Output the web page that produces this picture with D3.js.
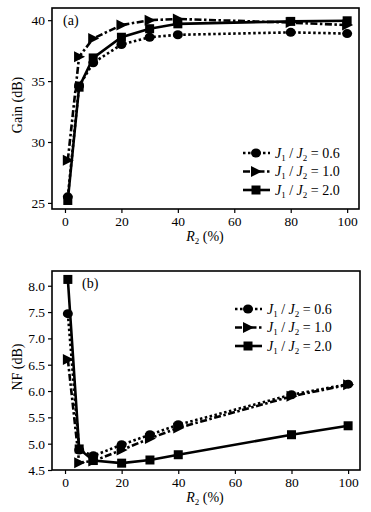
<!DOCTYPE html>
<html><head><meta charset="utf-8">
<script src="https://cdn.jsdelivr.net/npm/d3@7"></script>
<style>
body{margin:0;background:#fff;}
svg text{font-family:"Times New Roman","Liberation Serif",Tinos,Times,serif;fill:#000;}
</style></head>
<body><svg id="c" width="371" height="512"></svg>
<script>
const xValues = [1, 5, 10, 20, 30, 40, 80, 100];
const ratios = ["0.6", "1.0", "2.0"];
const gain06 = [25.5, 34.6, 36.5, 38.0, 38.6, 38.8, 39.0, 38.9];
const gain10 = [28.5, 37.0, 38.5, 39.6, 40.0, 40.1, 39.8, 39.6];
const gain20 = [25.2, 34.5, 36.9, 38.6, 39.3, 39.7, 39.9, 39.95];
const nf06 = [7.47, 4.88, 4.77, 4.98, 5.17, 5.36, 5.93, 6.13];
const nf10 = [6.6, 4.64, 4.67, 4.88, 5.1, 5.3, 5.9, 6.12];
const nf20 = [8.12, 4.9, 4.68, 4.63, 4.69, 4.79, 5.17, 5.34];
const xTicks = [0, 20, 40, 60, 80, 100];
const gainTicks = [25, 30, 35, 40];
const nfTicks = [4.5, 5.0, 5.5, 6.0, 6.5, 7.0, 7.5, 8.0];

const svg = d3.select("#c");
const styles = [
  {dash: "2.5,2.5", marker: "circle"},
  {dash: "7,2.5,2.5,2.5", marker: "triangle"},
  {dash: null, marker: "square"}
];

function drawMarker(g, type, x, y) {
  if (type === "circle") g.append("ellipse").attr("cx", x).attr("cy", y).attr("rx", 5).attr("ry", 4.5);
  else if (type === "square") g.append("rect").attr("x", x - 4.5).attr("y", y - 4.5).attr("width", 9).attr("height", 9);
  else g.append("path").attr("d", `M${x-5},${y-5.5}L${x+6},${y}L${x-5},${y+5.5}Z`);
}

function panel(cfg) {
  const {top, bottom, left, right, yDomain, yTicks, yFmt, series, label, ylabel, legendX, legendY} = cfg;
  const x = d3.scaleLinear().domain([-4.6, 104.2]).range([left, right]);
  const y = d3.scaleLinear().domain(yDomain).range([bottom, top]);
  const g = svg.append("g");
  const xa = g.append("g").attr("transform", `translate(0,${bottom})`)
    .call(d3.axisBottom(x).tickValues(xTicks).tickSize(4).tickPadding(3).tickFormat(d3.format("d")));
  const ya = g.append("g").attr("transform", `translate(${left},0)`)
    .call(d3.axisLeft(y).tickValues(yTicks).tickSize(4).tickPadding(3).tickFormat(yFmt));
  [xa, ya].forEach(a => {
    a.attr("font-family", null);
    a.select(".domain").remove();
    a.selectAll("line").attr("stroke", "#000").attr("stroke-width", 1.2);
    a.selectAll("text").attr("font-size", 13.5);
  });
  g.append("rect").attr("x", left).attr("y", top).attr("width", right - left).attr("height", bottom - top)
    .attr("fill", "none").attr("stroke", "#000").attr("stroke-width", 1.6);
  const line = d3.line().x((d, i) => x(xValues[i])).y(d => y(d));
  series.forEach((s, k) => {
    g.append("path").datum(s).attr("d", line).attr("fill", "none").attr("stroke", "#000")
      .attr("stroke-width", 2.6).attr("stroke-dasharray", styles[k].dash);
    const mg = g.append("g").attr("fill", "#000");
    s.forEach((v, i) => drawMarker(mg, styles[k].marker, x(xValues[i]), y(v)));
  });
  g.append("text").attr("x", cfg.labX).attr("y", cfg.labY).attr("font-size", 14).text(label);
  g.append("text").attr("transform", `translate(${cfg.ylabX},${cfg.ylabY}) rotate(-90)`)
    .attr("text-anchor", "middle").attr("font-size", 14).text(ylabel);
  const xl = g.append("text").attr("x", 205).attr("y", bottom + 32).attr("text-anchor", "middle").attr("font-size", 14);
  xl.append("tspan").attr("font-style", "italic").text("R");
  xl.append("tspan").attr("font-size", 9).attr("dy", 3).text("2");
  xl.append("tspan").attr("dy", -3).text(" (%)");
  ratios.forEach((r, k) => {
    const ly = legendY + k * 18.5;
    const lg = g.append("g");
    lg.append("line").attr("x1", legendX).attr("x2", legendX + 27).attr("y1", ly).attr("y2", ly)
      .attr("stroke", "#000").attr("stroke-width", 2.6).attr("stroke-dasharray", styles[k].dash);
    const mg = lg.append("g").attr("fill", "#000");
    drawMarker(mg, styles[k].marker, legendX + 13, ly);
    const t = lg.append("text").attr("x", legendX + 32).attr("y", ly + 4.5).attr("font-size", 14);
    t.append("tspan").attr("font-style", "italic").text("J");
    t.append("tspan").attr("font-size", 9).attr("dy", 3).text("1");
    t.append("tspan").attr("dy", -3).text(" / ");
    t.append("tspan").attr("font-style", "italic").text("J");
    t.append("tspan").attr("font-size", 9).attr("dy", 3).text("2");
    t.append("tspan").attr("dy", -3).text(" = " + r);
  });
}

panel({top: 8, bottom: 209, left: 52, right: 359, yDomain: [24.5, 41.0], yTicks: gainTicks,
  yFmt: d3.format("d"), series: [gain06, gain10, gain20], label: "(a)", labX: 63, labY: 25,
  ylabel: "Gain (dB)", ylabX: 22, ylabY: 105, legendX: 243, legendY: 153});
panel({top: 271, bottom: 470, left: 52, right: 360, yDomain: [4.5, 8.28], yTicks: nfTicks,
  yFmt: d3.format(".1f"), series: [nf06, nf10, nf20], label: "(b)", labX: 82, labY: 288,
  ylabel: "NF (dB)", ylabX: 22, ylabY: 367, legendX: 235, legendY: 309});
</script></body></html>
